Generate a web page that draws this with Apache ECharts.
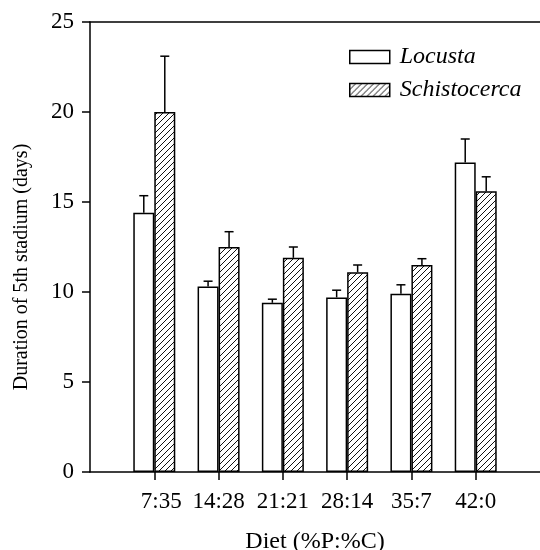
<!DOCTYPE html>
<html>
<head>
<meta charset="utf-8">
<script src="https://cdn.jsdelivr.net/npm/echarts@6/dist/echarts.min.js"></script>
<style>
html,body{margin:0;padding:0;background:#fff;}
#chart{width:540px;height:550px;}
</style>
</head>
<body>
<div id="chart"></div>
<script>
// ---- data ----
const categories = ['7:35', '14:28', '21:21', '28:14', '35:7', '42:0'];
const locusta = [14.4, 10.3, 9.4, 9.7, 9.9, 17.2];
const locustaErr = [0.95, 0.3, 0.2, 0.4, 0.5, 1.3];
const schisto = [20.0, 12.5, 11.9, 11.1, 11.5, 15.6];
const schistoErr = [3.1, 0.85, 0.6, 0.4, 0.35, 0.8];
const yTicks = [0, 5, 10, 15, 20, 25];

// ---- build ----
const FONT = '"Liberation Serif", "Times New Roman", serif';
const axisCats = [''].concat(categories, ['']);
const pad = arr => ['-'].concat(arr, ['-']);

function hatch() {
  const c = document.createElement('canvas');
  c.width = 6; c.height = 6;
  const g = c.getContext('2d');
  g.fillStyle = '#fff'; g.fillRect(0, 0, 6, 6);
  g.strokeStyle = '#111'; g.lineWidth = 1;
  g.beginPath();
  g.moveTo(-1, 7); g.lineTo(7, -1);
  g.moveTo(-1, 1); g.lineTo(1, -1);
  g.moveTo(5, 7); g.lineTo(7, 5);
  g.stroke();
  return c;
}
const hatchFill = { image: hatch(), repeat: 'repeat' };
const BW = 21;

function errSeries(vals, errs, side) {
  return {
    type: 'custom',
    z: 5,
    silent: true,
    data: vals.map((v, i) => [i + 1, v, errs[i]]),
    renderItem: function (params, api) {
      const base = api.coord([api.value(0), api.value(1)]);
      const top = api.coord([api.value(0), api.value(1) + api.value(2)]);
      const x = base[0] + side * BW / 2;
      const st = { stroke: '#000', lineWidth: 1.5 };
      return {
        type: 'group',
        children: [
          { type: 'line', shape: { x1: x, y1: base[1], x2: x, y2: top[1] }, style: st },
          { type: 'line', shape: { x1: x - 4.5, y1: top[1], x2: x + 4.5, y2: top[1] }, style: st }
        ]
      };
    }
  };
}

const chart = echarts.init(document.getElementById('chart'), null, { renderer: 'canvas' });
chart.setOption({
  animation: false,
  backgroundColor: '#fff',
  textStyle: { fontFamily: FONT, color: '#000' },
  grid: { left: 90, right: 0, top: 22, bottom: 78, containLabel: false, outerBoundsMode: 'none' },
  legend: {
    orient: 'vertical',
    left: 344, top: 40,
    icon: 'rect',
    itemWidth: 40, itemHeight: 13, itemGap: 9,
    data: ['Locusta', 'Schistocerca'],
    itemStyle: { borderColor: '#000', borderWidth: 1.5 },
    textStyle: { fontFamily: FONT, fontStyle: 'italic', fontSize: 24, color: '#000', lineHeight: 24, padding: [0, 0, 0, 5] }
  },
  xAxis: [{
    type: 'category',
    data: axisCats,
    boundaryGap: false,
    name: 'Diet (%P:%C)',
    nameLocation: 'middle',
    nameGap: 58,
    nameTextStyle: { fontFamily: FONT, fontSize: 24, color: '#000' },
    axisLine: { lineStyle: { color: '#000', width: 1.5 } },
    axisTick: { length: 8, lineStyle: { color: '#000', width: 1.5 }, interval: (i) => i >= 1 && i <= categories.length },
    axisLabel: {
      margin: 18, fontFamily: FONT, fontSize: 23, color: '#000',
      interval: (i) => i >= 1 && i <= categories.length,
      formatter: (v) => v === categories[0] ? '{p|' + v + '}' : v,
      rich: { p: { fontFamily: FONT, fontSize: 23, color: '#000', padding: [0, 0, 0, 14] } }
    },
    splitLine: { show: false }
  }, {
    type: 'category',
    data: axisCats,
    position: 'top',
    boundaryGap: false,
    axisLine: { lineStyle: { color: '#000', width: 1.5 } },
    axisTick: { show: false },
    axisLabel: { show: false },
    splitLine: { show: false }
  }],
  yAxis: {
    type: 'value',
    min: yTicks[0], max: yTicks[yTicks.length - 1], interval: 5,
    name: 'Duration of 5th stadium (days)',
    nameLocation: 'middle',
    nameGap: 58,
    nameTextStyle: { fontFamily: FONT, fontSize: 20, color: '#000', padding: [0, 40, 0, 0] },
    axisLine: { show: true, lineStyle: { color: '#000', width: 1.5 } },
    axisTick: { show: true, length: 8, lineStyle: { color: '#000', width: 1.5 } },
    axisLabel: { margin: 16, fontFamily: FONT, fontSize: 23, color: '#000' },
    splitLine: { show: false }
  },
  series: [{
    name: 'Locusta',
    type: 'bar',
    data: pad(locusta),
    barWidth: BW,
    barGap: '0%',
    itemStyle: { color: '#fff', borderColor: '#000', borderWidth: 1.5 }
  }, {
    name: 'Schistocerca',
    type: 'bar',
    data: pad(schisto),
    barWidth: BW,
    barGap: '0%',
    itemStyle: { color: hatchFill, borderColor: '#000', borderWidth: 1.5 }
  },
  errSeries(locusta, locustaErr, -1),
  errSeries(schisto, schistoErr, 1)
  ]
});
</script>
</body>
</html>
